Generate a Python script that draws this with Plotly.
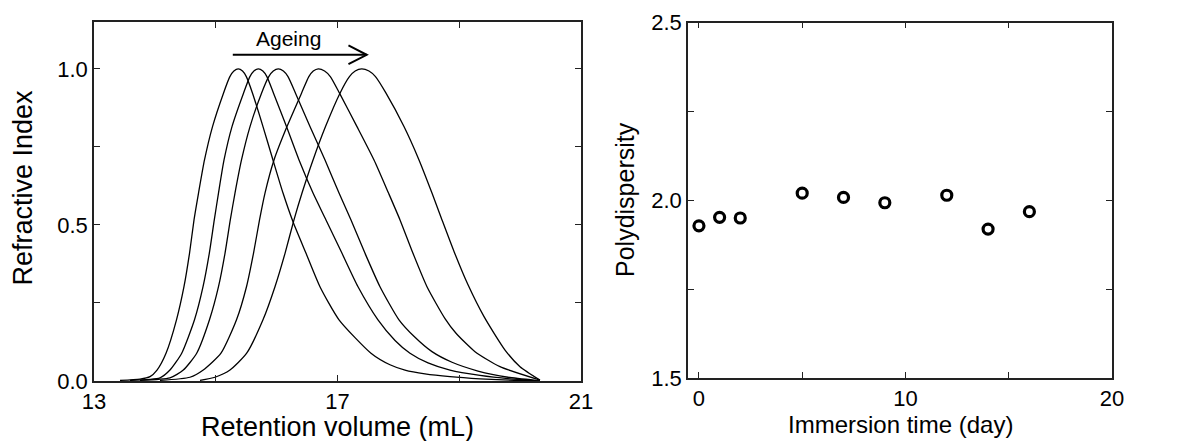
import plotly.graph_objects as go

W, H = 1192, 441
FONT = "Liberation Sans, Arial, sans-serif"

# ---- Left panel: GPC traces (retention volume in mL vs normalised RI) ----
vol_1 = [13.427, 13.756, 13.920, 14.035, 14.183, 14.355, 14.478, 14.569, 14.643, 14.717,
         14.815, 14.947, 15.127, 15.232, 15.298, 15.370, 15.440, 15.502, 15.604, 15.776,
         15.940, 16.105, 16.269, 16.483, 16.712, 17.025, 17.550, 17.862, 18.109, 18.437,
         18.848, 19.341, 19.916, 20.326]
ri_1 = [0.002, 0.006, 0.014, 0.035, 0.089, 0.196, 0.302, 0.409, 0.516, 0.602,
        0.708, 0.815, 0.922, 0.975, 0.993, 1.000, 0.993, 0.975, 0.922, 0.815,
        0.708, 0.602, 0.510, 0.409, 0.302, 0.196, 0.089, 0.052, 0.035, 0.023,
        0.014, 0.007, 0.002, 0.000]

vol_2 = [13.591, 14.084, 14.248, 14.441, 14.651, 14.791, 14.894, 14.976, 15.045, 15.136,
         15.267, 15.456, 15.561, 15.627, 15.699, 15.774, 15.840, 15.949, 16.162, 16.368,
         16.598, 16.811, 17.074, 17.337, 17.665, 17.945, 18.191, 18.487, 18.848, 19.341,
         19.834, 20.326]
ri_2 = [0.002, 0.010, 0.035, 0.089, 0.196, 0.302, 0.409, 0.516, 0.602, 0.708,
        0.815, 0.922, 0.975, 0.993, 1.000, 0.993, 0.975, 0.922, 0.815, 0.708,
        0.602, 0.516, 0.409, 0.302, 0.196, 0.130, 0.089, 0.058, 0.035, 0.018,
        0.007, 0.000]

vol_3 = [13.756, 14.248, 14.467, 14.687, 14.897, 15.045, 15.152, 15.239, 15.316, 15.423,
         15.563, 15.752, 15.871, 15.945, 16.028, 16.111, 16.187, 16.310, 16.548, 16.795,
         17.025, 17.222, 17.452, 17.698, 18.010, 18.273, 18.552, 18.881, 19.308, 19.801,
         20.261]
ri_3 = [0.002, 0.010, 0.035, 0.089, 0.196, 0.302, 0.409, 0.516, 0.602, 0.708,
        0.815, 0.922, 0.975, 0.993, 1.000, 0.993, 0.975, 0.922, 0.815, 0.708,
        0.602, 0.516, 0.409, 0.302, 0.196, 0.140, 0.094, 0.060, 0.032, 0.012,
        0.002]

vol_4 = [14.084, 14.577, 14.795, 15.086, 15.341, 15.505, 15.620, 15.719, 15.809, 15.957,
         16.170, 16.409, 16.529, 16.602, 16.685, 16.788, 16.882, 17.033, 17.320, 17.600,
         17.838, 18.027, 18.240, 18.470, 18.766, 18.947, 19.259, 19.669, 20.326]
ri_4 = [0.002, 0.012, 0.035, 0.089, 0.196, 0.302, 0.409, 0.516, 0.602, 0.708,
        0.815, 0.922, 0.975, 0.993, 1.000, 0.993, 0.975, 0.922, 0.815, 0.708,
        0.602, 0.516, 0.409, 0.302, 0.200, 0.153, 0.094, 0.046, 0.003]

vol_5 = [14.741, 14.988, 15.234, 15.508, 15.776, 15.973, 16.138, 16.285, 16.417, 16.598,
         16.803, 17.041, 17.196, 17.291, 17.398, 17.517, 17.624, 17.797, 18.092, 18.339,
         18.552, 18.717, 18.914, 19.144, 19.407, 19.752, 19.998, 20.326]
ri_5 = [0.002, 0.012, 0.035, 0.089, 0.196, 0.302, 0.409, 0.516, 0.602, 0.708,
        0.815, 0.922, 0.975, 0.993, 1.000, 0.993, 0.975, 0.922, 0.815, 0.708,
        0.602, 0.516, 0.415, 0.308, 0.206, 0.099, 0.046, 0.003]

left_xticks = [13, 15, 17, 19, 21]
left_xtext = ["13", "", "17", "", "21"]
left_yticks = [0, 0.25, 0.5, 0.75, 1.0]
left_ytext = ["0.0", "", "0.5", "", "1.0"]

# ---- Right panel: polydispersity vs immersion time ----
day = [0, 1, 2, 5, 7, 9, 12, 14, 16]
pdi = [1.928, 1.952, 1.950, 2.020, 2.008, 1.993, 2.014, 1.919, 1.968]

right_xticks = [0, 5, 10, 15, 20]
right_xtext = ["0", "", "10", "", "20"]
right_yticks = [1.5, 1.75, 2.0, 2.25, 2.5]
right_ytext = ["1.5", "", "2.0", "", "2.5"]

# Annotation arrow ("Ageing")
arrow_x0, arrow_x1, arrow_y = 15.28, 17.48, 1.045
head_dx, head_dy = 0.30, 0.030

fig = go.Figure()
for vx, vy in [(vol_1, ri_1), (vol_2, ri_2), (vol_3, ri_3), (vol_4, ri_4), (vol_5, ri_5)]:
    fig.add_trace(go.Scatter(x=vx, y=vy, mode="lines", xaxis="x", yaxis="y",
                             line=dict(color="black", width=1.3, shape="spline", smoothing=0.6),
                             hoverinfo="skip"))

fig.add_trace(go.Scatter(x=day, y=pdi, mode="markers", xaxis="x2", yaxis="y2",
                         marker=dict(symbol="circle", size=10, color="white",
                                     line=dict(color="black", width=3.2))))

AX = dict(showline=True, linecolor="#222", linewidth=1.5, mirror="ticks",
          ticks="inside", ticklen=6, tickwidth=1.3, tickcolor="#222",
          showgrid=False, zeroline=False, automargin=False,
          tickfont=dict(family=FONT, size=22, color="black"))

fig.update_layout(
    width=W, height=H,
    margin=dict(l=0, r=0, t=0, b=0, pad=0),
    paper_bgcolor="white", plot_bgcolor="white",
    showlegend=False,
    font=dict(family=FONT, color="black"),
    xaxis=dict(domain=[94 / W, 581 / W], range=[13, 21], tickvals=left_xticks,
               ticktext=left_xtext, anchor="y", **AX),
    yaxis=dict(domain=[1 - 381 / H, 1 - 22 / H], range=[0, 1.15], tickvals=left_yticks,
               ticktext=left_ytext, anchor="x", **AX),
    xaxis2=dict(domain=[688 / W, 1112 / W], range=[-0.53, 20], tickvals=right_xticks,
                ticktext=right_xtext, anchor="y2", **AX),
    yaxis2=dict(domain=[1 - 378 / H, 1 - 22.5 / H], range=[1.5, 2.5], tickvals=right_yticks,
                ticktext=right_ytext, anchor="x2", **AX),
)

fig.add_shape(type="line", xref="x", yref="y", x0=arrow_x0, x1=arrow_x1, y0=arrow_y, y1=arrow_y,
              line=dict(color="black", width=2))
fig.add_shape(type="path", xref="x", yref="y",
              path=f"M {arrow_x1 - head_dx},{arrow_y + head_dy} L {arrow_x1},{arrow_y} "
                   f"L {arrow_x1 - head_dx},{arrow_y - head_dy}",
              line=dict(color="black", width=2))

fig.add_annotation(x=16.20, y=1.096, xref="x", yref="y", text="Ageing", showarrow=False,
                   font=dict(family=FONT, size=21, color="black"))

titles = [
    ("Refractive Index", 23 / W, 1 - 187.5 / H, -90, 27),
    ("Retention volume (mL)", 337 / W, 1 - 427 / H, 0, 27),
    ("Polydispersity", 625 / W, 1 - 200 / H, -90, 25),
    ("Immersion time (day)", 900 / W, 1 - 424 / H, 0, 24),
]
for txt, xp, yp, ang, sz in titles:
    fig.add_annotation(x=xp, y=yp, xref="paper", yref="paper", text=txt, showarrow=False,
                       textangle=ang, xanchor="center", yanchor="middle",
                       font=dict(family=FONT, size=sz, color="black"))

fig.write_html("out.html")
